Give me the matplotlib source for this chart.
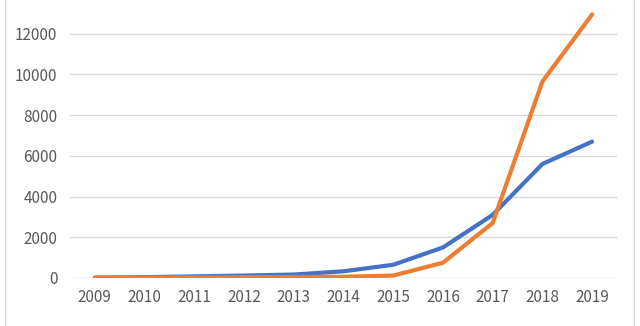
import matplotlib
matplotlib.use("Agg")
import matplotlib.pyplot as plt
from matplotlib.lines import Line2D

plt.rcParams['font.family'] = ['Noto Sans CJK SC', 'DejaVu Sans']

years = ["2009", "2010", "2011", "2012", "2013", "2014", "2015", "2016", "2017", "2018", "2019"]
us = [20, 40, 80, 120, 170, 330, 650, 1500, 3100, 5600, 6700]
china = [10, 20, 30, 40, 50, 60, 120, 750, 2700, 9650, 12950]
series_names = ["美国", "中国"]
yticks = [0, 2000, 4000, 6000, 8000, 10000, 12000, 14000]

fig = plt.figure(figsize=(6.4, 3.26), dpi=100)
ax = fig.add_axes([70/640, 48/326, 547/640, 285/326])
x = list(range(len(years)))
ax.plot(x, us, color="#4472C4", lw=3, label=series_names[0], solid_capstyle='round', zorder=3)
ax.plot(x, china, color="#ED7D31", lw=3, label=series_names[1], solid_capstyle='round', zorder=3)
ax.set_xlim(-0.5, len(years) - 0.5)
ax.set_ylim(0, 14000)
ax.set_yticks(yticks)
ax.set_yticklabels([str(v) for v in yticks])
ax.set_xticks(x)
ax.set_xticklabels(years)
ax.grid(axis='y', color="#D9D9D9", lw=1)
ax.set_axisbelow(True)
for s in ax.spines.values():
    s.set_visible(False)
ax.tick_params(length=0, labelsize=11, labelcolor="#595959", pad=8)
ax.tick_params(axis='y', pad=9)

fig.legend(loc='upper center', bbox_to_anchor=(0.5, 10/326), ncol=2, frameon=False,
           fontsize=11, labelcolor="#595959", handlelength=2.5, columnspacing=2)

fig.add_artist(Line2D([5/640, 5/640], [0, 1], color="#D9D9D9", lw=1, transform=fig.transFigure))
fig.add_artist(Line2D([634/640, 634/640], [0, 1], color="#D9D9D9", lw=1, transform=fig.transFigure))

fig.savefig("out.png", dpi=100)
